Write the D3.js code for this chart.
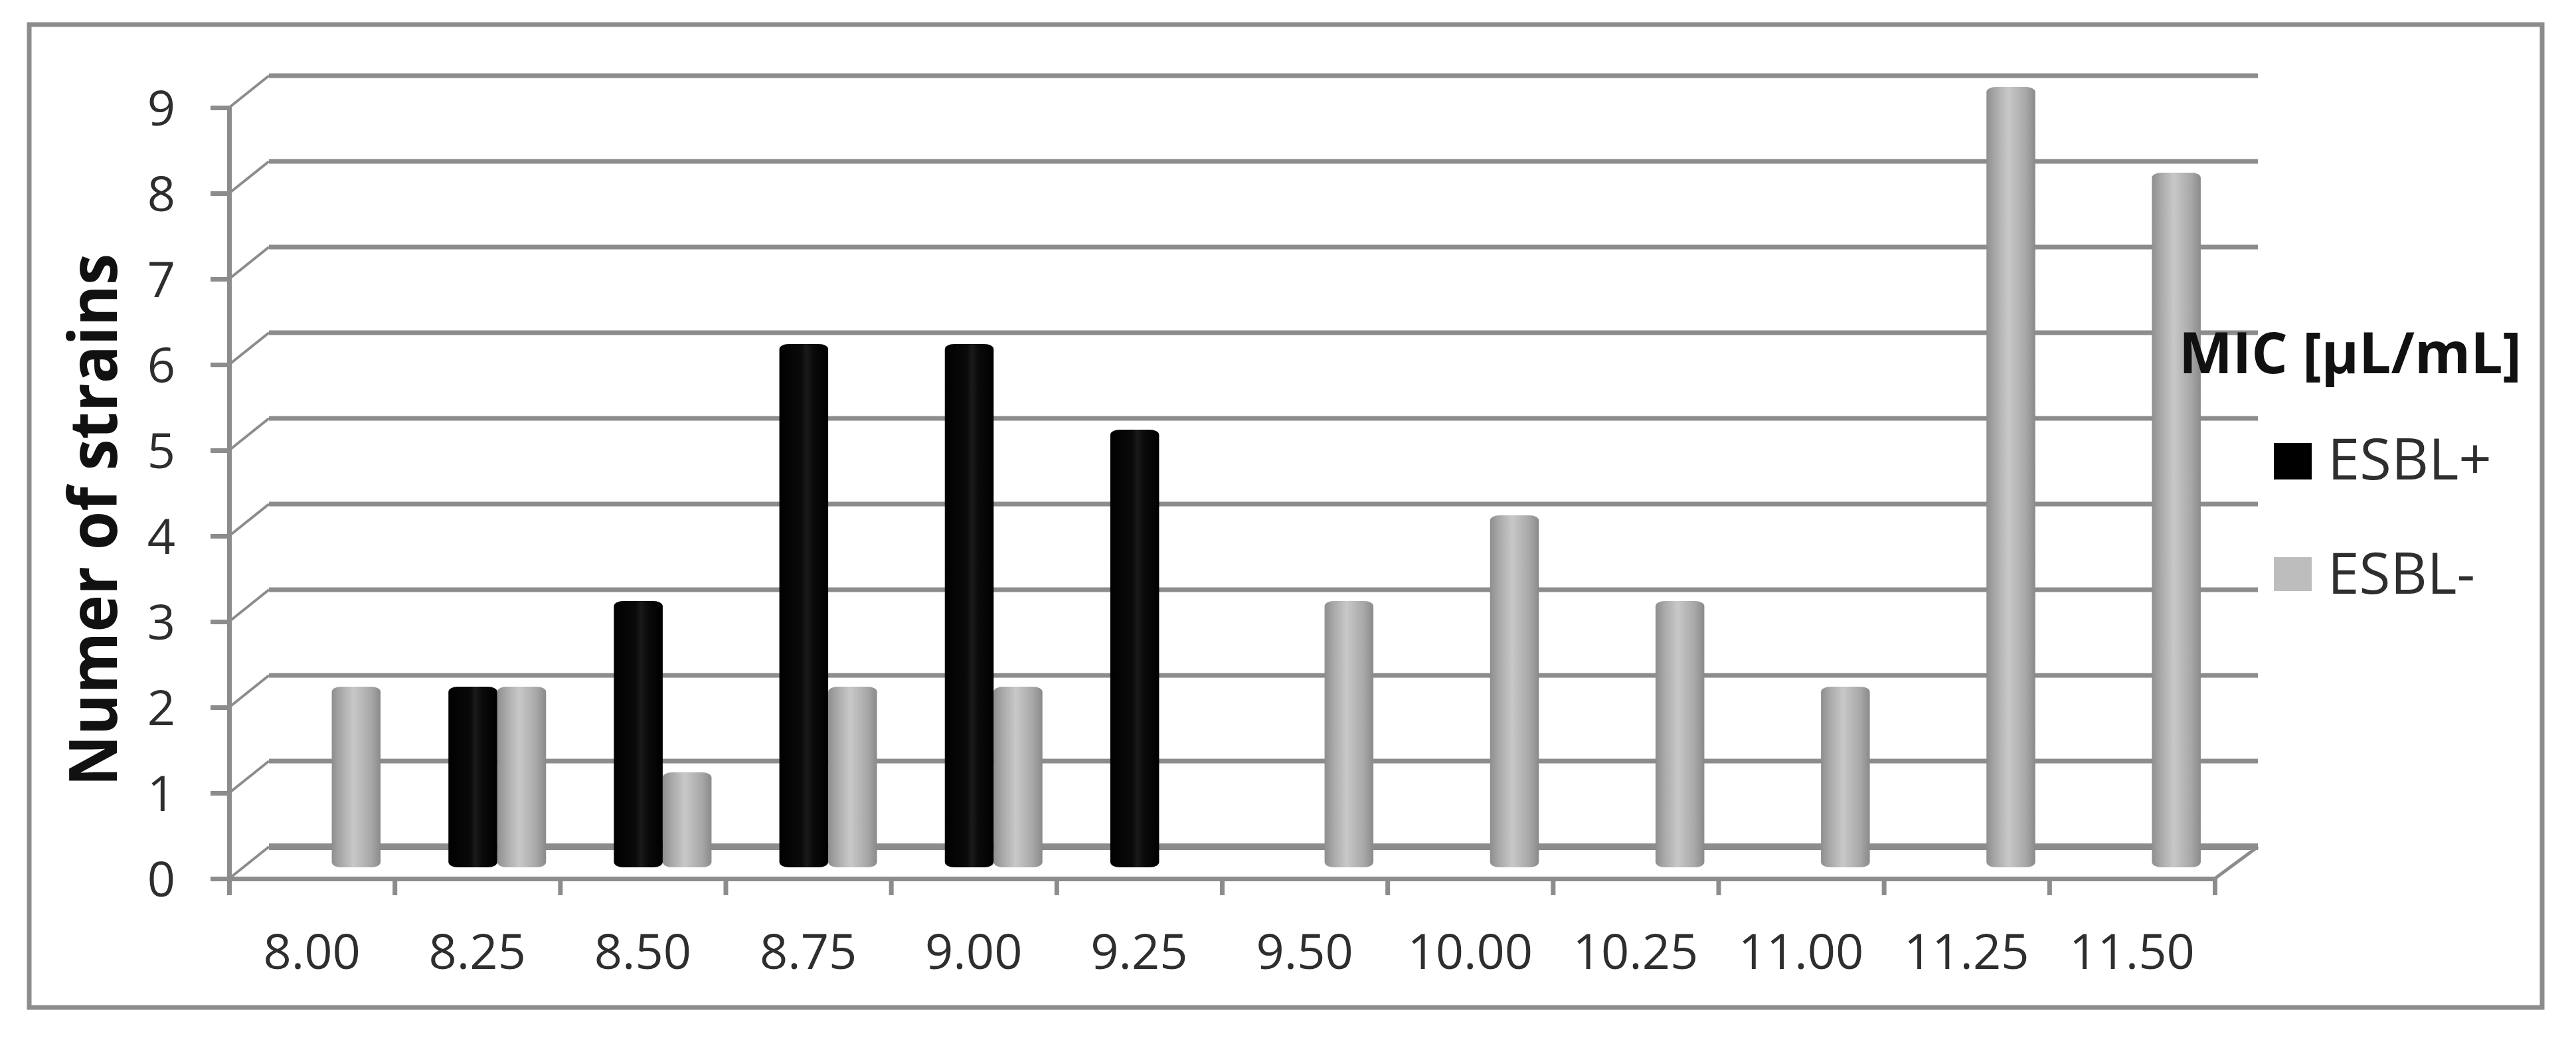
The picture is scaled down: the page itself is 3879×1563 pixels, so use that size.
<!DOCTYPE html>
<html>
<head>
<meta charset="utf-8">
<title>MIC chart</title>
<script src="https://cdn.jsdelivr.net/npm/d3@7"></script>
<style>
    html, body { margin: 0; padding: 0; background: #fff; overflow: hidden; }
    text { font-family: "Open Sans", sans-serif; }
</style>
</head>
<body>
<div id="chart"></div>
<script>
const categories = ["8.00", "8.25", "8.50", "8.75", "9.00", "9.25", "9.50", "10.00", "10.25", "11.00", "11.25", "11.50"];
const seriesNames = ["ESBL+", "ESBL-"];
const esblPlus = [0, 2, 3, 6, 6, 5, 0, 0, 0, 0, 0, 0];
const esblMinus = [2, 2, 1, 2, 2, 0, 3, 4, 3, 2, 9, 8];
const yTicks = [0, 1, 2, 3, 4, 5, 6, 7, 8, 9];

const width = 3879, height = 1563;
const lineColor = "#8c8c8c";
const textColor = "#2e2e2e";
// offset of the back wall against the front axes
const depthX = 60, depthY = 48;

const svg = d3.select("#chart").append("svg")
    .attr("width", width)
    .attr("height", height)
    .style("display", "block");

// cylinder shading
const defs = svg.append("defs");
function cylinderGradient(id, stops) {
    const g = defs.append("linearGradient").attr("id", id);
    stops.forEach(s => g.append("stop").attr("offset", s[0]).attr("stop-color", s[1]));
}
cylinderGradient("cyl-black", [[0, "#000"], [0.45, "#0a0a0a"], [0.55, "#1a1a1a"], [0.7, "#0a0a0a"], [1, "#000"]]);
cylinderGradient("cyl-gray", [[0, "#8e8e8e"], [0.18, "#a8a8a8"], [0.45, "#c8c8c8"], [0.8, "#a8a8a8"], [1, "#8a8a8a"]]);

// outer frame
svg.append("rect")
    .attr("x", 44).attr("y", 37)
    .attr("width", 3784).attr("height", 1480)
    .attr("fill", "none")
    .attr("stroke", lineColor)
    .attr("stroke-width", 7);

const x0 = d3.scaleBand()
    .domain(categories)
    .range([345, 3335])
    .paddingInner(0.41)
    .paddingOuter(0.205);

const x1 = d3.scaleBand()
    .domain(seriesNames)
    .range([0, x0.bandwidth()]);

const xEdges = d3.scaleLinear()
    .domain([0, categories.length])
    .range([345, 3335]);

const y = d3.scaleLinear()
    .domain([0, 9])
    .range([1323, 162]);

// back wall gridlines with the slanted side wall
const walls = svg.append("g").attr("fill", "none").attr("stroke", lineColor);
yTicks.forEach(v => {
    walls.append("path")
        .attr("d", `M${x0.range()[0]},${y(v)}L${x0.range()[0] + depthX},${y(v) - depthY}`)
        .attr("stroke-width", 4);
    walls.append("path")
        .attr("d", `M${x0.range()[0] + depthX},${y(v) - depthY}H${x0.range()[1] + depthX + 5}`)
        .attr("stroke-width", v === 0 ? 10 : 7);
});
walls.append("path")
    .attr("d", `M${x0.range()[1]},${y(0)}L${x0.range()[1] + depthX + 5},${y(0) - depthY}`)
    .attr("stroke-width", 5);

// bars sit half way into the depth
const bars = svg.append("g")
    .attr("transform", `translate(${depthX / 2},${-depthY / 2})`);

function drawSeries(name, values, fill) {
    bars.append("g")
        .selectAll("rect")
        .data(values.map((v, i) => ({ cat: categories[i], value: v })).filter(d => d.value > 0))
        .join("rect")
        .attr("x", d => x0(d.cat) + x1(name))
        .attr("y", d => y(d.value) - 7)
        .attr("width", x1.bandwidth())
        .attr("height", d => y(0) - y(d.value) + 14)
        .attr("rx", 14)
        .attr("ry", 8)
        .attr("fill", fill);
}
drawSeries("ESBL-", esblMinus, "url(#cyl-gray)");
drawSeries("ESBL+", esblPlus, "url(#cyl-black)");

// axes
const yAxis = svg.append("g")
    .attr("transform", `translate(345,0)`)
    .call(d3.axisLeft(y).tickValues(yTicks).tickSize(28).tickPadding(53).tickFormat(d3.format("d")));

const xTicks = svg.append("g")
    .attr("transform", `translate(0,${y(0)})`)
    .call(d3.axisBottom(xEdges).tickValues(d3.range(categories.length + 1)).tickSize(25).tickFormat(""));

const xAxis = svg.append("g")
    .attr("transform", `translate(0,${y(0)})`)
    .call(d3.axisBottom(x0).tickSize(0).tickPadding(83));
xAxis.select(".domain").remove();

[yAxis, xTicks].forEach(a => {
    a.select(".domain").attr("stroke", lineColor).attr("stroke-width", 7);
    a.selectAll(".tick line").attr("stroke", lineColor).attr("stroke-width", 7);
});

[yAxis, xAxis].forEach(a => {
    a.selectAll("text")
        .attr("fill", textColor)
        .style("font-size", "74px");
});
yAxis.selectAll("text").attr("dy", "0.36em");

// axis title
svg.append("text")
    .attr("transform", "translate(176,783) rotate(-90)")
    .attr("text-anchor", "middle")
    .attr("textLength", 802)
    .attr("lengthAdjust", "spacingAndGlyphs")
    .attr("fill", "#111")
    .style("font-size", "100px")
    .style("font-weight", 700)
    .text("Numer of strains");

// legend
svg.append("text")
    .attr("x", 3281)
    .attr("y", 562)
    .attr("textLength", 516)
    .attr("lengthAdjust", "spacingAndGlyphs")
    .attr("fill", "#111")
    .style("font-size", "86px")
    .style("font-weight", 700)
    .text("MIC [µL/mL]");

const legendFill = { "ESBL+": "#000", "ESBL-": "#bdbdbd" };
const legendY = d3.scalePoint().domain(seriesNames).range([722, 894]);

seriesNames.forEach(name => {
    svg.append("rect")
        .attr("x", 3424)
        .attr("y", legendY(name) - 55)
        .attr("width", 57)
        .attr("height", name === "ESBL+" ? 55 : 51)
        .attr("fill", legendFill[name]);
    svg.append("text")
        .attr("x", 3505)
        .attr("y", legendY(name))
        .attr("textLength", name === "ESBL+" ? 247 : 222)
        .attr("lengthAdjust", "spacingAndGlyphs")
        .attr("fill", textColor)
        .style("font-size", "86px")
        .text(name);
});
</script>
</body>
</html>
